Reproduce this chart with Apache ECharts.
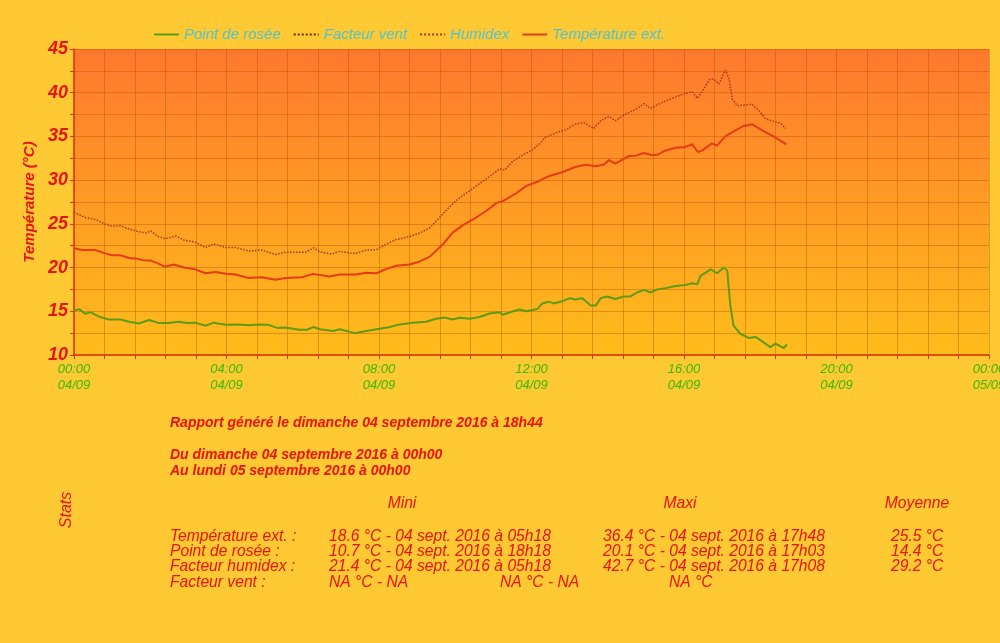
<!DOCTYPE html>
<html><head><meta charset="utf-8">
<script src="https://cdn.jsdelivr.net/npm/echarts@6/dist/echarts.min.js"></script>
<style>html,body{margin:0;padding:0;background:#ffc933;}#c{width:1000px;height:643px;}</style>
</head><body><div id="c"></div>
<script>
// Minutes since 04/09 00:00 and values (°C)
const tempMin = [0,13,34,48,60,73,87,97,108,121,131,143,157,173,191,207,223,239,254,275,296,317,333,359,376,402,418,444,460,476,492,507,528,544,560,581,596,612,628,649,665,675,696,712,732,747,768,789,805,821,834,842,852,873,884,897,910,918,931,947,962,973,982,989,1004,1012,1025,1041,1054,1067,1083,1101,1121];
const tempVal = [22.2,22.0,22.0,21.65,21.4,21.4,21.1,21.05,20.85,20.8,20.5,20.1,20.35,20.0,19.8,19.35,19.5,19.3,19.2,18.8,18.9,18.6,18.8,18.9,19.28,18.97,19.2,19.2,19.4,19.35,19.85,20.2,20.35,20.7,21.25,22.7,24.0,24.85,25.5,26.5,27.4,27.6,28.5,29.35,29.9,30.45,30.9,31.5,31.75,31.6,31.8,32.3,31.9,32.75,32.8,33.1,32.85,32.9,33.4,33.7,33.8,34.1,33.2,33.4,34.2,33.95,35.0,35.7,36.2,36.4,35.7,35.0,34.1];

const humMin = [0,19,34,48,60,73,87,102,113,121,131,144,160,173,189,207,220,239,254,275,296,317,333,364,377,387,405,418,442,460,476,492,507,528,544,560,575,591,607,623,638,654,670,678,691,707,722,732,742,758,773,789,802,818,829,842,852,868,884,897,907,926,941,957,973,981,989,1000,1007,1015,1025,1031,1036,1044,1057,1067,1078,1088,1101,1112,1120];
const humVal = [26.3,25.7,25.5,25.0,24.7,24.8,24.4,24.1,23.95,24.2,23.6,23.3,23.6,23.15,22.95,22.3,22.7,22.3,22.3,21.9,22.0,21.5,21.75,21.75,22.25,21.8,21.55,21.85,21.6,22.0,22.05,22.7,23.2,23.55,23.95,24.55,25.7,26.95,28.0,28.8,29.6,30.4,31.3,31.15,32.2,32.9,33.5,34.1,34.9,35.4,35.75,36.4,36.6,35.9,36.8,37.3,36.8,37.55,38.1,38.75,38.2,38.9,39.35,39.8,40.1,39.35,40.2,41.5,41.55,41.0,42.6,41.55,39.3,38.5,38.6,38.7,37.95,37.05,36.7,36.5,35.9];

const dewMin = [0,8,18,26,39,55,73,87,102,118,134,149,165,178,191,207,220,239,260,275,291,306,320,333,354,367,377,387,408,418,442,460,481,497,513,533,554,570,583,596,607,623,638,654,670,675,691,701,712,729,737,747,755,768,781,789,800,813,821,829,839,852,865,876,886,897,907,918,931,947,962,973,981,986,1002,1012,1023,1028,1033,1038,1049,1062,1073,1083,1096,1104,1117,1122];
const dewVal = [15.1,15.25,14.7,14.9,14.4,14.05,14.05,13.8,13.6,14.0,13.65,13.65,13.8,13.65,13.7,13.35,13.7,13.45,13.5,13.4,13.5,13.45,13.1,13.15,12.9,12.9,13.2,12.95,12.75,12.95,12.5,12.75,13.0,13.2,13.5,13.7,13.8,14.15,14.3,14.05,14.25,14.15,14.35,14.75,14.9,14.6,15.0,15.2,15.0,15.25,15.9,16.1,15.9,16.15,16.5,16.35,16.5,15.65,15.65,16.5,16.7,16.4,16.7,16.7,17.15,17.45,17.15,17.5,17.65,17.9,18.0,18.2,18.1,19.05,19.8,19.35,20.0,19.65,15.65,13.35,12.4,11.95,12.05,11.55,10.9,11.3,10.8,11.2];

const windMin = [];
const windVal = [];

const seriesNames = ['Point de rosée','Facteur vent','Humidex','Température ext.'];
const xDays = ['04/09','05/09'];

const reportLines = [
  'Rapport généré le dimanche 04 septembre 2016 à 18h44',
  'Du dimanche 04 septembre 2016 à 00h00',
  'Au lundi 05 septembre 2016 à 00h00'
];
const statHeaders = ['Mini','Maxi','Moyenne'];
const statLabels = ['Température ext. :','Point de rosée :','Facteur humidex :','Facteur vent :'];
const statMini = ['18.6 °C - 04 sept. 2016 à 05h18','10.7 °C - 04 sept. 2016 à 18h18','21.4 °C - 04 sept. 2016 à 05h18','NA °C - NA'];
const statMaxi = ['36.4 °C - 04 sept. 2016 à 17h48','20.1 °C - 04 sept. 2016 à 17h03','42.7 °C - 04 sept. 2016 à 17h08','NA °C'];
const statMoy = ['25.5 °C','14.4 °C','29.2 °C',''];

function pairs(a,b){return a.map((t,i)=>[t,b[i]]);}

const RED = '#e8140a';
const sans = '"Liberation Sans",Arial,sans-serif';
const tblFont = 'italic 17px ' + sans;
const SX = 0.92;

const graphics = [];
const lineYs = [423,455,471];
reportLines.forEach((t,i)=>graphics.push({type:'text',x:170,y:lineYs[i],style:{text:t,fill:RED,font:'italic bold 14px '+sans,verticalAlign:'middle'}}));
graphics.push({type:'text',x:67,y:510,rotation:Math.PI/2,style:{text:'Stats',fill:RED,font:'italic 16px '+sans,align:'center',verticalAlign:'middle'}});
const hdrX = [402,680,917];
statHeaders.forEach((t,i)=>graphics.push({type:'text',x:hdrX[i],y:503,scaleX:SX,style:{text:t,fill:RED,font:tblFont,align:'center',verticalAlign:'middle'}}));
const rowY = [536,551,566,582];
function cell(x,y,t){graphics.push({type:'text',x:x,y:y,scaleX:SX,style:{text:t,fill:RED,font:tblFont,verticalAlign:'middle'}});}
statLabels.forEach((t,i)=>{
  cell(170,rowY[i],t);
  cell(329,rowY[i],statMini[i]);
  if(i===3){
    cell(500,rowY[i],'NA °C - NA');
    cell(669,rowY[i],statMaxi[i]);
  } else {
    cell(603,rowY[i],statMaxi[i]);
    cell(891,rowY[i],statMoy[i]);
  }
});

const chart = echarts.init(document.getElementById('c'));
chart.setOption({
  backgroundColor:'#ffc933',
  animation:false,
  legend:{
    left:153, top:27, padding:0, itemWidth:25, itemHeight:14, itemGap:12,
    data:seriesNames,
    itemStyle:{opacity:0},
    textStyle:{color:'#4ec3d0',fontStyle:'italic',fontSize:15,fontFamily:sans}
  },
  grid:{
    left:74, right:11, top:49, bottom:288, show:true, borderWidth:0, outerBoundsMode:'none', containLabel:false,
    backgroundColor:new echarts.graphic.LinearGradient(0,0,0,1,[{offset:0,color:'#ff782e'},{offset:1,color:'#ffbd1a'}])
  },
  xAxis:{
    type:'value', min:0, max:1440, interval:48,
    axisLine:{lineStyle:{color:'#e0300a',width:1.5}},
    axisTick:{show:true,length:4,lineStyle:{color:'#e0300a'}},
    splitLine:{show:true,lineStyle:{color:'rgba(170,70,0,0.35)',width:1}},
    axisLabel:{
      color:'#33bb00', fontStyle:'italic', fontSize:13, fontFamily:sans, lineHeight:16, margin:6,
      formatter:function(v){ if(v%240!==0) return ''; const h=Math.round(v/60)%24; const d=v>=1440?xDays[1]:xDays[0]; return (h<10?'0':'')+h+':00\n'+d; }
    }
  },
  yAxis:{
    type:'value', min:10, max:45, interval:2.5,
    name:'Température (°C)', nameLocation:'middle', nameGap:33, nameRotate:90,
    nameTextStyle:{color:RED,fontStyle:'italic',fontWeight:'bold',fontSize:15,fontFamily:sans},
    axisLine:{show:true,lineStyle:{color:'#e0300a',width:1.5}},
    axisTick:{show:true,length:4,lineStyle:{color:'#e0300a'}},
    splitLine:{show:true,lineStyle:{color:'rgba(170,70,0,0.35)',width:1}},
    axisLabel:{color:RED,fontStyle:'italic',fontWeight:'bold',fontSize:18,fontFamily:sans,margin:6,
      formatter:function(v){return v%5===0?String(v):'';}}
  },
  graphic:graphics,
  series:[
    {name:seriesNames[0],type:'line',symbol:'none',data:pairs(dewMin,dewVal),color:'#5d9c12',lineStyle:{width:2,color:'#5d9c12'}},
    {name:seriesNames[1],type:'line',symbol:'none',data:pairs(windMin,windVal),color:'#6a2a10',lineStyle:{width:1.5,type:'dotted',color:'#6a2a10'}},
    {name:seriesNames[2],type:'line',symbol:'none',data:pairs(humMin,humVal),color:'#a8381a',lineStyle:{width:1.5,type:'dotted',color:'#a8381a'}},
    {name:seriesNames[3],type:'line',symbol:'none',data:pairs(tempMin,tempVal),color:'#e63c14',lineStyle:{width:2,color:'#e63c14'}}
  ]
});
</script></body></html>
